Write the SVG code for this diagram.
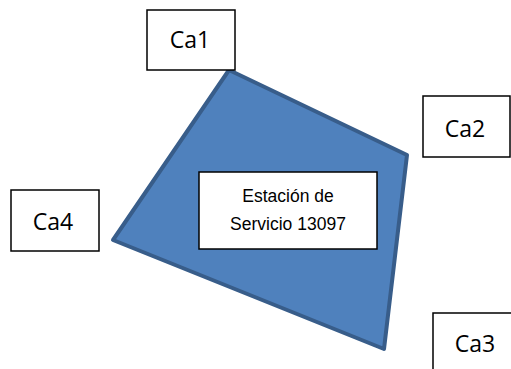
<svg xmlns="http://www.w3.org/2000/svg" width="511" height="369" viewBox="0 0 511 369">
<style>
.box{fill:#fff;stroke:#000;stroke-width:1.5}
.lbl{font-family:"Open Sans","Liberation Sans",sans-serif;font-size:23px;fill:#000;text-anchor:middle}
.in{font-family:"Liberation Sans",Arial,sans-serif;font-size:17.5px;fill:#000;text-anchor:middle}
</style>
<rect width="511" height="369" fill="#fff"/>
<g id="area">
<polygon points="229,70 407,155 384,349 113,240" fill="#4F81BD" stroke="#385D8A" stroke-width="4" stroke-linejoin="round"/>
</g>
<g id="station">
<rect class="box" x="199" y="172" width="178" height="77"/>
<text class="in" x="288" y="202">Estación de</text>
<text class="in" x="288" y="230">Servicio 13097</text>
</g>
<g id="ca1">
<rect class="box" x="147" y="10" width="88" height="60"/>
<text class="lbl" x="190" y="48">Ca1</text>
</g>
<g id="ca2">
<rect class="box" x="423" y="96" width="87" height="61"/>
<text class="lbl" x="465" y="137">Ca2</text>
</g>
<g id="ca3">
<rect class="box" x="433" y="313" width="90" height="70"/>
<text class="lbl" x="475" y="352">Ca3</text>
</g>
<g id="ca4">
<rect class="box" x="11" y="190" width="88" height="61"/>
<text class="lbl" x="53" y="230">Ca4</text>
</g>
<g id="connectors"></g>
</svg>
